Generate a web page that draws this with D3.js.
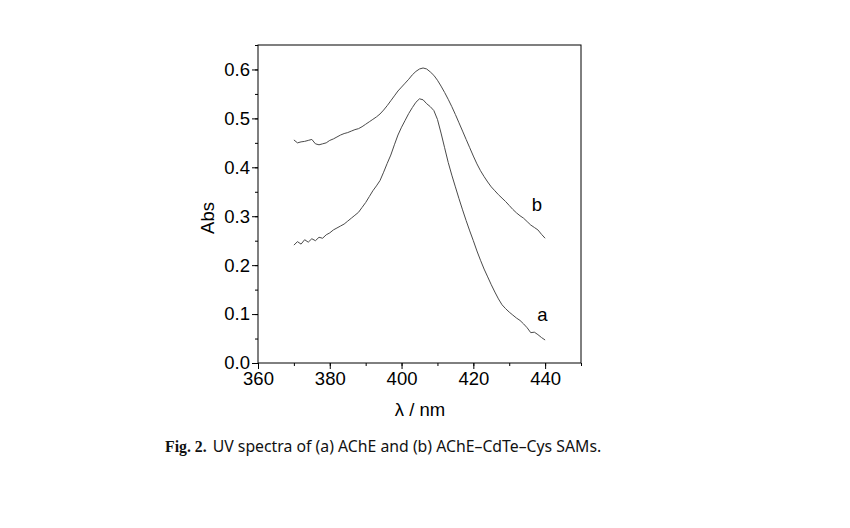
<!DOCTYPE html>
<html>
<head>
<meta charset="utf-8">
<script src="https://cdn.jsdelivr.net/npm/d3@7"></script>
<style>
  body { margin: 0; background: #fff; }
  svg { display: block; }
</style>
</head>
<body>
<div id="chart"></div>
<script>
// wavelength grid (nm)
const wavelengths = d3.range(370, 441);

// (a) AChE
const absA = [
  0.241, 0.248, 0.243, 0.252, 0.247, 0.254, 0.250, 0.257, 0.255, 0.262,
  0.266, 0.272, 0.276, 0.280, 0.284, 0.290, 0.296, 0.302, 0.308, 0.318,
  0.328, 0.340, 0.352, 0.362, 0.373, 0.390, 0.408, 0.425, 0.446, 0.466,
  0.482, 0.496, 0.510, 0.522, 0.533, 0.540, 0.538, 0.530, 0.524, 0.516,
  0.498, 0.470, 0.440, 0.410, 0.384, 0.360, 0.336, 0.313, 0.291, 0.270,
  0.250, 0.229, 0.210, 0.192, 0.176, 0.160, 0.145, 0.131, 0.119, 0.111,
  0.104, 0.098, 0.092, 0.087, 0.080, 0.072, 0.062, 0.063, 0.058, 0.052,
  0.047
];

// (b) AChE-CdTe-Cys SAMs
const absB = [
  0.456, 0.450, 0.452, 0.453, 0.455, 0.457, 0.448, 0.446, 0.448, 0.450,
  0.455, 0.458, 0.462, 0.466, 0.469, 0.471, 0.474, 0.477, 0.479, 0.483,
  0.488, 0.493, 0.498, 0.503, 0.509, 0.517, 0.526, 0.536, 0.546, 0.556,
  0.564, 0.572, 0.580, 0.589, 0.596, 0.601, 0.603, 0.601, 0.595, 0.588,
  0.578, 0.566, 0.553, 0.539, 0.524, 0.508, 0.491, 0.474, 0.457, 0.440,
  0.423, 0.407, 0.393, 0.381, 0.370, 0.360, 0.352, 0.344, 0.337, 0.330,
  0.322, 0.314, 0.307, 0.301, 0.296, 0.289, 0.282, 0.277, 0.272, 0.263,
  0.255
];

const xTicks = [360, 380, 400, 420, 440];
const yTicks = [0.0, 0.1, 0.2, 0.3, 0.4, 0.5, 0.6];

const width = 850, height = 528;
const margin = { top: 45, left: 258, right: 269, bottom: 165 };

const svg = d3.select("#chart").append("svg")
    .attr("width", width)
    .attr("height", height);

const x = d3.scaleLinear().domain([360, 450]).range([margin.left, width - margin.right]);
const y = d3.scaleLinear().domain([0, 0.65]).range([height - margin.bottom, margin.top]);

const font = "Liberation Sans, Arial, sans-serif";
const fs = "18.5px";

// bottom axis
svg.append("g")
    .attr("transform", `translate(0,${y(0)})`)
    .call(d3.axisBottom(x).tickValues(d3.range(360, 451, 10)).tickSize(3).tickFormat(""))
    .call(g => g.select(".domain").remove());
svg.append("g")
    .attr("transform", `translate(0,${y(0)})`)
    .call(d3.axisBottom(x).tickValues(xTicks).tickSize(6).tickPadding(3).tickFormat(d3.format("d")))
    .call(g => g.select(".domain").remove())
    .selectAll("text").style("font", `${fs} ${font}`).attr("fill", "#000");

// left axis
svg.append("g")
    .attr("transform", `translate(${x(360)},0)`)
    .call(d3.axisLeft(y).tickValues(d3.range(0, 0.651, 0.05)).tickSize(3).tickFormat(""))
    .call(g => g.select(".domain").remove());
svg.append("g")
    .attr("transform", `translate(${x(360)},0)`)
    .call(d3.axisLeft(y).tickValues(yTicks).tickSize(6).tickPadding(2).tickFormat(d3.format(".1f")))
    .call(g => g.select(".domain").remove())
    .selectAll("text").style("font", `${fs} ${font}`).attr("fill", "#000");

// frame
svg.append("rect")
    .attr("x", x(360)).attr("y", y(0.65))
    .attr("width", x(450) - x(360)).attr("height", y(0) - y(0.65))
    .attr("fill", "none").attr("stroke", "#000").attr("stroke-width", 1);

const line = d3.line()
    .x((d, i) => x(wavelengths[i]))
    .y(d => y(d));

[absA, absB].forEach(s => {
  svg.append("path")
      .datum(s)
      .attr("fill", "none")
      .attr("stroke", "#4a4a4a")
      .attr("stroke-width", 1)
      .attr("d", line);
});

// curve labels
svg.append("text").attr("x", x(436.3)).attr("y", y(0.31))
    .style("font", `${fs} ${font}`).text("b");
svg.append("text").attr("x", x(437.8)).attr("y", y(0.085))
    .style("font", `${fs} ${font}`).text("a");

// axis titles
svg.append("text")
    .attr("transform", `translate(214,218) rotate(-90)`)
    .attr("text-anchor", "middle")
    .style("font", `${fs} ${font}`)
    .text("Abs");
svg.append("text")
    .attr("x", 420).attr("y", 416)
    .attr("text-anchor", "middle")
    .style("font", `${fs} ${font}`)
    .text("λ / nm");

// caption
const cap = svg.append("text")
    .attr("x", 165).attr("y", 452)
    .style("font", `15.8px "Noto Sans", sans-serif`)
    .attr("fill", "#111");
cap.append("tspan").style("font-weight", "bold").style("font-family", "Liberation Serif, serif").text("Fig. 2.");
cap.append("tspan").attr("dx", 6).text("UV spectra of (a) AChE and (b) AChE–CdTe–Cys SAMs.");
</script>
</body>
</html>
